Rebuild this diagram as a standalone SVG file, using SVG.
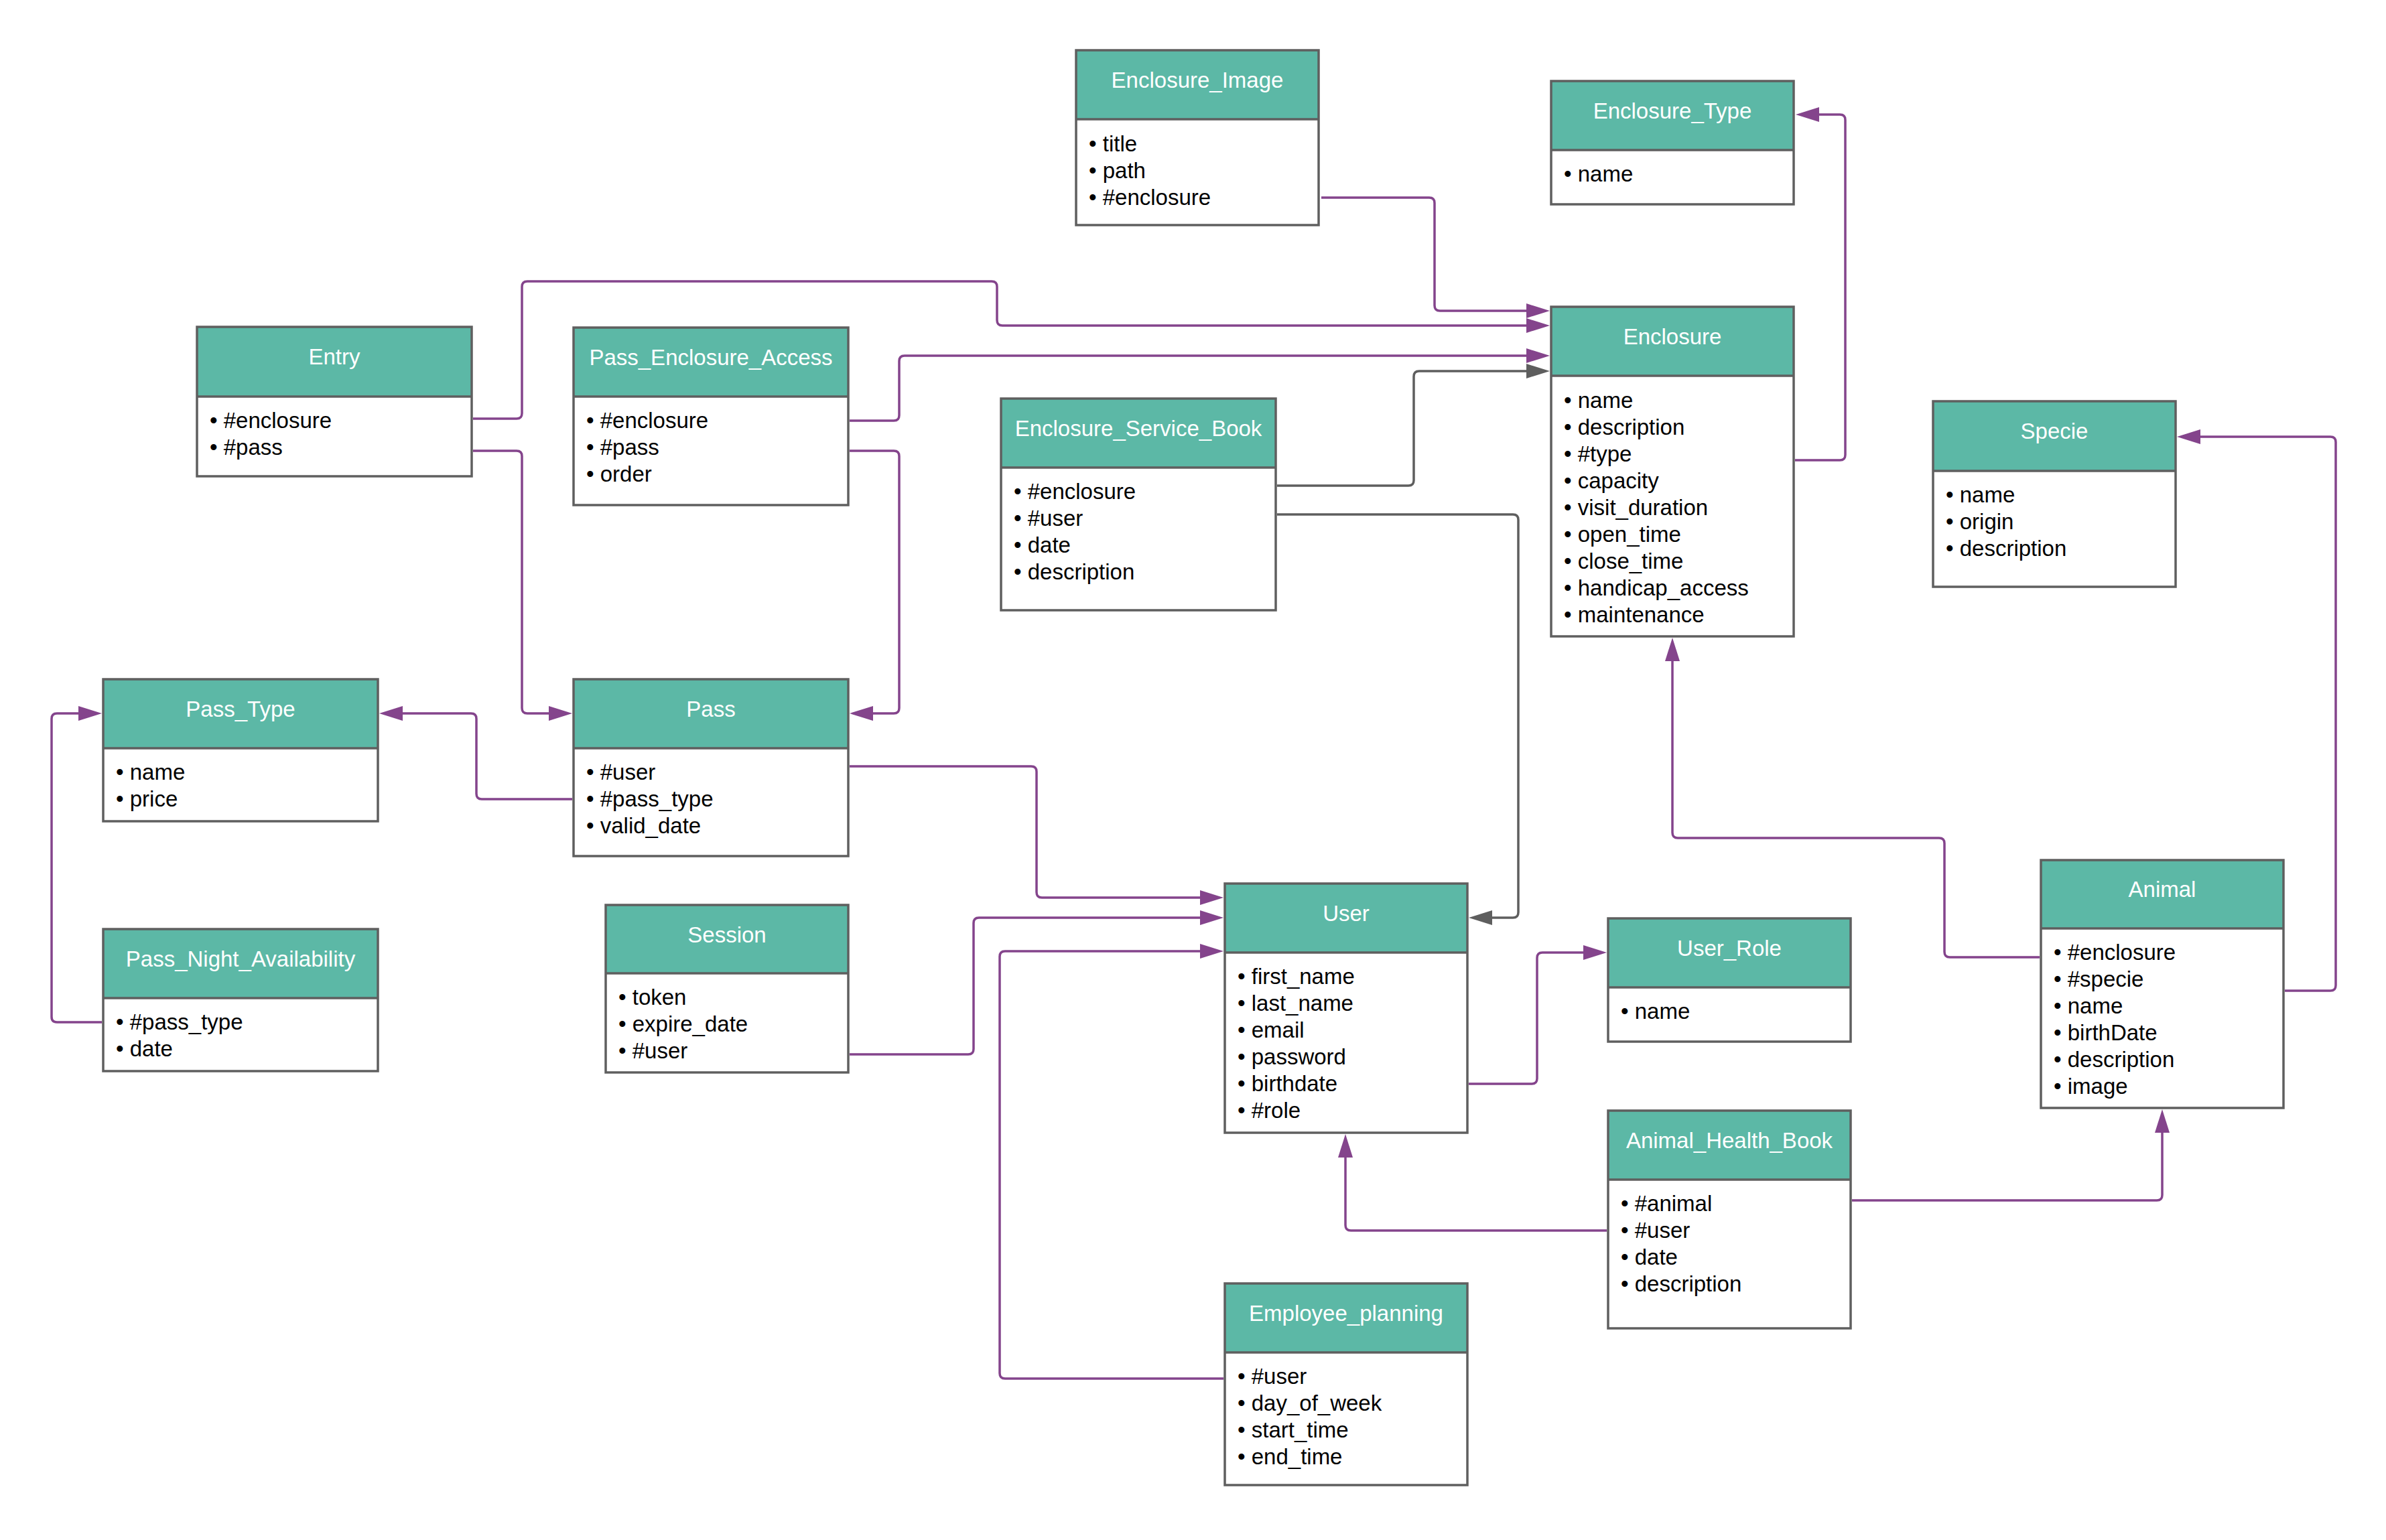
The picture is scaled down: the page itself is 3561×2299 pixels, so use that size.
<svg xmlns="http://www.w3.org/2000/svg" width="3561" height="2299" viewBox="0 0 3561 2299">
<style>
.bg{fill:#ffffff}
.hd{fill:#5cb8a6}
.bx{fill:none;stroke:#5f5f5f;stroke-width:3.5}
.tt{font-family:"Liberation Sans",Arial,sans-serif;font-size:33px;fill:#ffffff;text-anchor:middle}
.at{font-family:"Liberation Sans",Arial,sans-serif;font-size:33px;fill:#000000}
.p{fill:none;stroke:#84448c;stroke-width:3.5}
.g{fill:none;stroke:#5e5e5e;stroke-width:3.5}
</style>
<defs>
<marker id="ap" markerUnits="userSpaceOnUse" markerWidth="36" markerHeight="24" refX="1" refY="11" orient="auto"><path d="M0,0 L35,11 L0,22 z" fill="#84448c"/></marker>
<marker id="ag" markerUnits="userSpaceOnUse" markerWidth="36" markerHeight="24" refX="1" refY="11" orient="auto"><path d="M0,0 L35,11 L0,22 z" fill="#5e5e5e"/></marker>
</defs>
<rect class="bg" x="0" y="0" width="3561" height="2299"/>

<g id="connectors">
<path class="p" marker-end="url(#ap)" d="M1972,295 H2133 Q2141,295 2141,303 V456 Q2141,464 2149,464 H2279"/>
<path class="p" marker-end="url(#ap)" d="M706,625 H771 Q779,625 779,617 V428 Q779,420 787,420 H1480 Q1488,420 1488,428 V478 Q1488,486 1496,486 H2279"/>
<path class="p" marker-end="url(#ap)" d="M1268,628 H1334 Q1342,628 1342,620 V539 Q1342,531 1350,531 H2279"/>
<path class="g" marker-end="url(#ag)" d="M1906,725 H2102 Q2110,725 2110,717 V562 Q2110,554 2118,554 H2279"/>
<path class="g" marker-end="url(#ag)" d="M1906,768 H2258 Q2266,768 2266,776 V1362 Q2266,1370 2258,1370 H2226"/>
<path class="p" marker-end="url(#ap)" d="M2679,687 H2746 Q2754,687 2754,679 V179 Q2754,171 2746,171 H2714"/>
<path class="p" marker-end="url(#ap)" d="M706,673 H771 Q779,673 779,681 V1057 Q779,1065 787,1065 H820"/>
<path class="p" marker-end="url(#ap)" d="M1268,673 H1334 Q1342,673 1342,681 V1057 Q1342,1065 1334,1065 H1302"/>
<path class="p" marker-end="url(#ap)" d="M854,1193 H719 Q711,1193 711,1185 V1073 Q711,1065 703,1065 H600"/>
<path class="p" marker-end="url(#ap)" d="M152,1526 H85 Q77,1526 77,1518 V1073 Q77,1065 85,1065 H118"/>
<path class="p" marker-end="url(#ap)" d="M1268,1144 H1539 Q1547,1144 1547,1152 V1332 Q1547,1340 1555,1340 H1792"/>
<path class="p" marker-end="url(#ap)" d="M1268,1574 H1445 Q1453,1574 1453,1566 V1378 Q1453,1370 1461,1370 H1792"/>
<path class="p" marker-end="url(#ap)" d="M1826,2058 H1500 Q1492,2058 1492,2050 V1428 Q1492,1420 1500,1420 H1792"/>
<path class="p" marker-end="url(#ap)" d="M2192,1618 H2286 Q2294,1618 2294,1610 V1430 Q2294,1422 2302,1422 H2364"/>
<path class="p" marker-end="url(#ap)" d="M2398,1837 H2016 Q2008,1837 2008,1829 V1727"/>
<path class="p" marker-end="url(#ap)" d="M2764,1792 H3219 Q3227,1792 3227,1784 V1690"/>
<path class="p" marker-end="url(#ap)" d="M3044,1429 H2910 Q2902,1429 2902,1421 V1259 Q2902,1251 2894,1251 H2504 Q2496,1251 2496,1243 V986"/>
<path class="p" marker-end="url(#ap)" d="M3410,1479 H3478 Q3486,1479 3486,1471 V660 Q3486,652 3478,652 H3283"/>
</g>

<g id="enclosure_image">
<rect class="bg" x="1606" y="75" width="362" height="261"/>
<rect class="hd" x="1606" y="75" width="362" height="103"/>
<rect class="bx" x="1606" y="75" width="362" height="261"/>
<line class="bx" x1="1606" y1="178" x2="1968" y2="178"/>
<text class="tt" x="1787" y="131">Enclosure_Image</text>
<text class="at" x="1625" y="226">• title</text>
<text class="at" x="1625" y="266">• path</text>
<text class="at" x="1625" y="306">• #enclosure</text>
</g>

<g id="enclosure_type">
<rect class="bg" x="2315" y="121" width="362" height="184"/>
<rect class="hd" x="2315" y="121" width="362" height="103"/>
<rect class="bx" x="2315" y="121" width="362" height="184"/>
<line class="bx" x1="2315" y1="224" x2="2677" y2="224"/>
<text class="tt" x="2496" y="177">Enclosure_Type</text>
<text class="at" x="2334" y="271">• name</text>
</g>

<g id="entry">
<rect class="bg" x="294" y="488" width="410" height="223"/>
<rect class="hd" x="294" y="488" width="410" height="104"/>
<rect class="bx" x="294" y="488" width="410" height="223"/>
<line class="bx" x1="294" y1="592" x2="704" y2="592"/>
<text class="tt" x="499" y="544">Entry</text>
<text class="at" x="313" y="639">• #enclosure</text>
<text class="at" x="313" y="679">• #pass</text>
</g>

<g id="pass_enclosure_access">
<rect class="bg" x="856" y="489" width="410" height="265"/>
<rect class="hd" x="856" y="489" width="410" height="103"/>
<rect class="bx" x="856" y="489" width="410" height="265"/>
<line class="bx" x1="856" y1="592" x2="1266" y2="592"/>
<text class="tt" x="1061" y="545">Pass_Enclosure_Access</text>
<text class="at" x="875" y="639">• #enclosure</text>
<text class="at" x="875" y="679">• #pass</text>
<text class="at" x="875" y="719">• order</text>
</g>

<g id="enclosure_service_book">
<rect class="bg" x="1494" y="595" width="410" height="316"/>
<rect class="hd" x="1494" y="595" width="410" height="103"/>
<rect class="bx" x="1494" y="595" width="410" height="316"/>
<line class="bx" x1="1494" y1="698" x2="1904" y2="698"/>
<text class="tt" x="1699" y="651">Enclosure_Service_Book</text>
<text class="at" x="1513" y="745">• #enclosure</text>
<text class="at" x="1513" y="785">• #user</text>
<text class="at" x="1513" y="825">• date</text>
<text class="at" x="1513" y="865">• description</text>
</g>

<g id="enclosure">
<rect class="bg" x="2315" y="458" width="362" height="492"/>
<rect class="hd" x="2315" y="458" width="362" height="103"/>
<rect class="bx" x="2315" y="458" width="362" height="492"/>
<line class="bx" x1="2315" y1="561" x2="2677" y2="561"/>
<text class="tt" x="2496" y="514">Enclosure</text>
<text class="at" x="2334" y="609">• name</text>
<text class="at" x="2334" y="649">• description</text>
<text class="at" x="2334" y="689">• #type</text>
<text class="at" x="2334" y="729">• capacity</text>
<text class="at" x="2334" y="769">• visit_duration</text>
<text class="at" x="2334" y="809">• open_time</text>
<text class="at" x="2334" y="849">• close_time</text>
<text class="at" x="2334" y="889">• handicap_access</text>
<text class="at" x="2334" y="929">• maintenance</text>
</g>

<g id="specie">
<rect class="bg" x="2885" y="599" width="362" height="277"/>
<rect class="hd" x="2885" y="599" width="362" height="104"/>
<rect class="bx" x="2885" y="599" width="362" height="277"/>
<line class="bx" x1="2885" y1="703" x2="3247" y2="703"/>
<text class="tt" x="3066" y="655">Specie</text>
<text class="at" x="2904" y="750">• name</text>
<text class="at" x="2904" y="790">• origin</text>
<text class="at" x="2904" y="830">• description</text>
</g>

<g id="pass_type">
<rect class="bg" x="154" y="1014" width="410" height="212"/>
<rect class="hd" x="154" y="1014" width="410" height="103"/>
<rect class="bx" x="154" y="1014" width="410" height="212"/>
<line class="bx" x1="154" y1="1117" x2="564" y2="1117"/>
<text class="tt" x="359" y="1070">Pass_Type</text>
<text class="at" x="173" y="1164">• name</text>
<text class="at" x="173" y="1204">• price</text>
</g>

<g id="pass">
<rect class="bg" x="856" y="1014" width="410" height="264"/>
<rect class="hd" x="856" y="1014" width="410" height="103"/>
<rect class="bx" x="856" y="1014" width="410" height="264"/>
<line class="bx" x1="856" y1="1117" x2="1266" y2="1117"/>
<text class="tt" x="1061" y="1070">Pass</text>
<text class="at" x="875" y="1164">• #user</text>
<text class="at" x="875" y="1204">• #pass_type</text>
<text class="at" x="875" y="1244">• valid_date</text>
</g>

<g id="pass_night_availability">
<rect class="bg" x="154" y="1387" width="410" height="212"/>
<rect class="hd" x="154" y="1387" width="410" height="103"/>
<rect class="bx" x="154" y="1387" width="410" height="212"/>
<line class="bx" x1="154" y1="1490" x2="564" y2="1490"/>
<text class="tt" x="359" y="1443">Pass_Night_Availability</text>
<text class="at" x="173" y="1537">• #pass_type</text>
<text class="at" x="173" y="1577">• date</text>
</g>

<g id="session">
<rect class="bg" x="904" y="1351" width="362" height="250"/>
<rect class="hd" x="904" y="1351" width="362" height="102"/>
<rect class="bx" x="904" y="1351" width="362" height="250"/>
<line class="bx" x1="904" y1="1453" x2="1266" y2="1453"/>
<text class="tt" x="1085" y="1407">Session</text>
<text class="at" x="923" y="1500">• token</text>
<text class="at" x="923" y="1540">• expire_date</text>
<text class="at" x="923" y="1580">• #user</text>
</g>

<g id="user">
<rect class="bg" x="1828" y="1319" width="362" height="372"/>
<rect class="hd" x="1828" y="1319" width="362" height="103"/>
<rect class="bx" x="1828" y="1319" width="362" height="372"/>
<line class="bx" x1="1828" y1="1422" x2="2190" y2="1422"/>
<text class="tt" x="2009" y="1375">User</text>
<text class="at" x="1847" y="1469">• first_name</text>
<text class="at" x="1847" y="1509">• last_name</text>
<text class="at" x="1847" y="1549">• email</text>
<text class="at" x="1847" y="1589">• password</text>
<text class="at" x="1847" y="1629">• birthdate</text>
<text class="at" x="1847" y="1669">• #role</text>
</g>

<g id="user_role">
<rect class="bg" x="2400" y="1371" width="362" height="184"/>
<rect class="hd" x="2400" y="1371" width="362" height="103"/>
<rect class="bx" x="2400" y="1371" width="362" height="184"/>
<line class="bx" x1="2400" y1="1474" x2="2762" y2="1474"/>
<text class="tt" x="2581" y="1427">User_Role</text>
<text class="at" x="2419" y="1521">• name</text>
</g>

<g id="animal">
<rect class="bg" x="3046" y="1284" width="362" height="370"/>
<rect class="hd" x="3046" y="1284" width="362" height="102"/>
<rect class="bx" x="3046" y="1284" width="362" height="370"/>
<line class="bx" x1="3046" y1="1386" x2="3408" y2="1386"/>
<text class="tt" x="3227" y="1339">Animal</text>
<text class="at" x="3065" y="1433">• #enclosure</text>
<text class="at" x="3065" y="1473">• #specie</text>
<text class="at" x="3065" y="1513">• name</text>
<text class="at" x="3065" y="1553">• birthDate</text>
<text class="at" x="3065" y="1593">• description</text>
<text class="at" x="3065" y="1633">• image</text>
</g>

<g id="animal_health_book">
<rect class="bg" x="2400" y="1658" width="362" height="325"/>
<rect class="hd" x="2400" y="1658" width="362" height="103"/>
<rect class="bx" x="2400" y="1658" width="362" height="325"/>
<line class="bx" x1="2400" y1="1761" x2="2762" y2="1761"/>
<text class="tt" x="2581" y="1714">Animal_Health_Book</text>
<text class="at" x="2419" y="1808">• #animal</text>
<text class="at" x="2419" y="1848">• #user</text>
<text class="at" x="2419" y="1888">• date</text>
<text class="at" x="2419" y="1928">• description</text>
</g>

<g id="employee_planning">
<rect class="bg" x="1828" y="1916" width="362" height="301"/>
<rect class="hd" x="1828" y="1916" width="362" height="103"/>
<rect class="bx" x="1828" y="1916" width="362" height="301"/>
<line class="bx" x1="1828" y1="2019" x2="2190" y2="2019"/>
<text class="tt" x="2009" y="1972">Employee_planning</text>
<text class="at" x="1847" y="2066">• #user</text>
<text class="at" x="1847" y="2106">• day_of_week</text>
<text class="at" x="1847" y="2146">• start_time</text>
<text class="at" x="1847" y="2186">• end_time</text>
</g>
</svg>
